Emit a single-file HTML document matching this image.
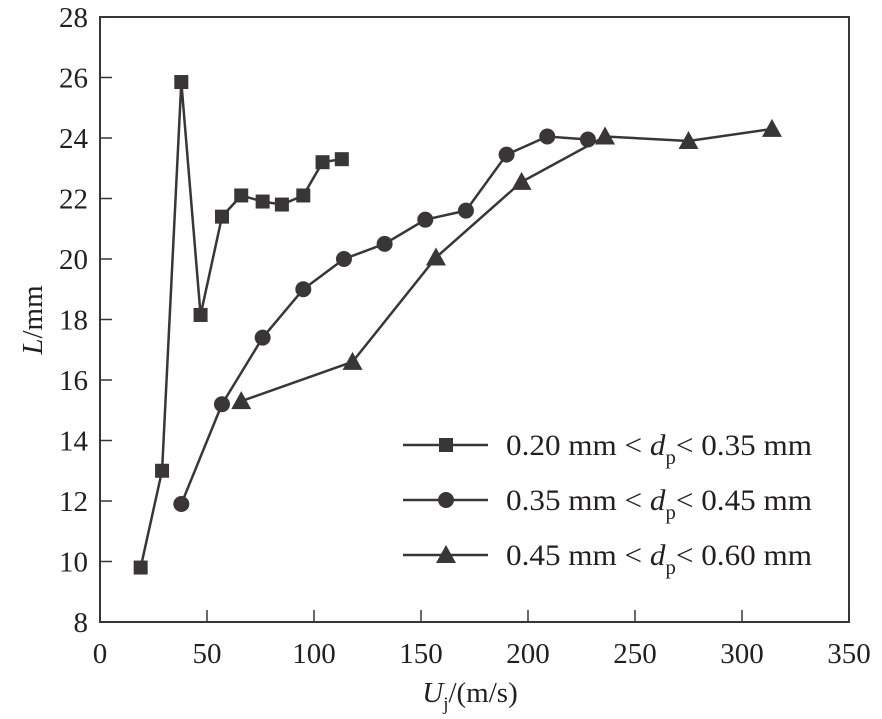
<!DOCTYPE html>
<html><head><meta charset="utf-8"><style>
body{margin:0;background:#fff}
svg{display:block}
svg text{font-family:"Liberation Serif","Times New Roman",serif;fill:#231f20}
</style></head><body>
<svg id="c" width="882" height="719" font-family="Liberation Serif, serif"></svg>
<script>
const xTicks=[0,50,100,150,200,250,300,350];
const yTicks=[8,10,12,14,16,18,20,22,24,26,28];
const s1x=[19,29,38,47,57,66,76,85,95,104,113];
const s1y=[9.8,13,25.85,18.15,21.4,22.1,21.9,21.8,22.1,23.2,23.3];
const s2x=[38,57,76,95,114,133,152,171,190,209,228];
const s2y=[11.9,15.2,17.4,19,20,20.5,21.3,21.6,23.45,24.05,23.95];
const s3x=[66,118,157,197,236,275,314];
const s3y=[15.3,16.6,20.05,22.55,24.05,23.9,24.3];
const labels=["0.20 mm < ","0.35 mm < ","0.45 mm < "];
const labels2=["< 0.35 mm","< 0.45 mm","< 0.60 mm"];
const L=100,R=849,T=17,B=622;
const X=v=>L+(v-0)/350*(R-L);
const Y=v=>B-(v-8)/20*(B-T);
const svg=document.getElementById('c');
const NS='http://www.w3.org/2000/svg';
const col='#3a3536';
function mk(t,a,p){const e=document.createElementNS(NS,t);for(const k in a)e.setAttribute(k,a[k]);(p||svg).appendChild(e);return e;}
const frame=mk('rect',{x:L,y:T,width:R-L,height:B-T,fill:'none',stroke:col,'stroke-width':2});


xTicks.forEach(v=>{
 const t=mk('line',{x1:X(v),x2:X(v),y1:B,y2:B-12,stroke:col,'stroke-width':1.5});
 
 
 const l=mk('text',{x:X(v),y:B+41,'text-anchor':'middle','font-size':29});l.textContent=v;
 
 
});
yTicks.forEach(v=>{
 const t=mk('line',{x1:L,x2:L+12,y1:Y(v),y2:Y(v),stroke:col,'stroke-width':1.5});
 
 
 const l=mk('text',{x:L-12,y:Y(v)+10,'text-anchor':'end','font-size':29});l.textContent=v;
 
 
});
const xt=mk('text',{x:470,y:702,'text-anchor':'middle','font-size':29});
xt.innerHTML='<tspan font-style="italic">U</tspan><tspan font-size="19" dy="8">j</tspan><tspan dy="-8">/(m/s)</tspan>';


const yt=mk('text',{x:0,y:0,'text-anchor':'middle','font-size':29,transform:'translate(42,320) rotate(-90)'});
yt.innerHTML='<tspan font-style="italic">L</tspan>/mm';


function marker(type,cx,cy,g){
 if(type==0)return mk('rect',{x:cx-7,y:cy-7,width:14,height:14,fill:col},g);
 if(type==1)return mk('circle',{cx:cx,cy:cy,r:8,fill:col},g);
 return mk('polygon',{points:`${cx},${cy-10} ${cx-10},${cy+8} ${cx+10},${cy+8}`,fill:col},g);
}
[[s1x,s1y],[s2x,s2y],[s3x,s3y]].forEach((s,i)=>{
 const g=mk('g',{});
 
 
 const pl=mk('polyline',{points:s[0].map((x,j)=>X(x)+','+Y(s[1][j])).join(' '),fill:'none',stroke:col,'stroke-width':2.5},g);
 
 
 s[0].forEach((x,j)=>{const m=marker(i,X(x),Y(s[1][j]),g);
  
  });
 const ly=445+i*55;
 const lg=mk('g',{},svg);
 
 
 mk('line',{x1:403,x2:488,y1:ly,y2:ly,stroke:col,'stroke-width':2.5},lg);
 marker(i,446,ly,lg);
 const tx=mk('text',{x:506,y:ly+10,'font-size':30,textLength:306,lengthAdjust:'spacingAndGlyphs'},lg);
 tx.innerHTML=labels[i]+'<tspan font-style="italic">d</tspan><tspan font-size="20" dy="9">p</tspan><tspan dy="-9">'+labels2[i]+'</tspan>';
});
</script>
</body></html>
